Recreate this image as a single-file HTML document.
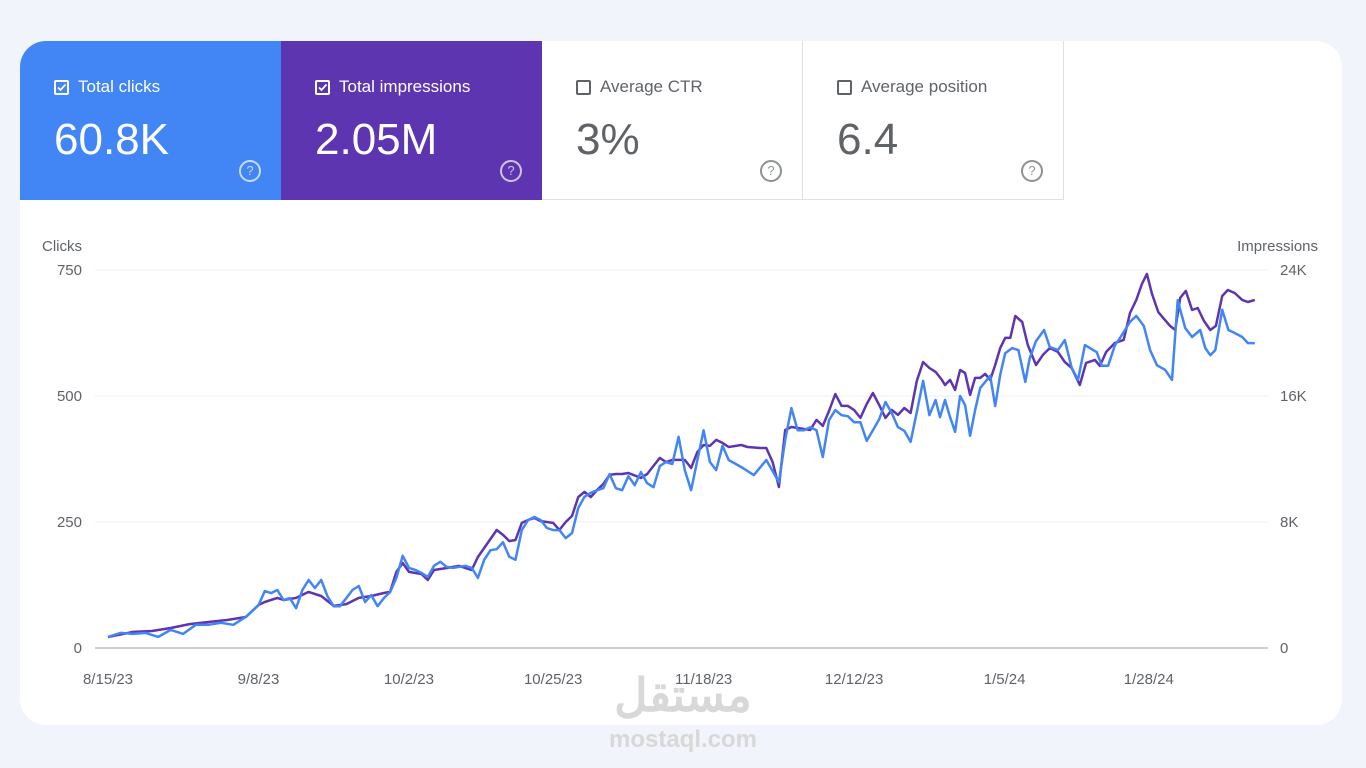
<!DOCTYPE html>
<html><head><meta charset="utf-8">
<style>
html,body{margin:0;padding:0;}
body{width:1366px;height:768px;background:#f1f4fb;font-family:"Liberation Sans",Arial,sans-serif;position:relative;overflow:hidden;}
.card{position:absolute;left:20px;top:41px;width:1322px;height:684px;background:#fff;border-radius:26px;overflow:hidden;}
.tab{position:absolute;top:0;height:159px;width:261px;box-sizing:border-box;}
.tab .lbl{position:absolute;left:34px;top:36px;font-size:17px;display:flex;align-items:center;}
.tab .cb{width:15px;height:15px;border:2px solid currentColor;border-radius:2px;margin-right:9px;box-sizing:border-box;position:relative;}
.tab .val{position:absolute;left:34px;top:74px;font-size:44px;}
.tab .help{position:absolute;right:20px;top:119px;width:18px;height:18px;border:2px solid currentColor;border-radius:50%;font-size:13px;text-align:center;line-height:18px;box-sizing:content-box;opacity:.7;}
.t1{left:0;background:#4285f4;color:#fff;}
.t2{left:261px;background:#5e35b1;color:#fff;}
.t3{left:522px;background:#fff;color:#5f6368;border-right:1px solid #e0e0e0;border-bottom:1px solid #e0e0e0;}
.t4{left:783px;background:#fff;color:#5f6368;border-right:1px solid #e0e0e0;border-bottom:1px solid #e0e0e0;}
.t3 .val,.t4 .val{color:#5f6368;}
svg text{font-family:"Liberation Sans",Arial,sans-serif;}
.wm{position:absolute;left:0;width:1366px;text-align:center;color:#d8d8d8;font-weight:bold;}
</style></head><body>
<div class="card">
  <div class="tab t1">
    <div class="lbl"><span class="cb"><svg width="11" height="11" style="position:absolute;left:0;top:0"><path d="M2 5.5l2.5 2.5 5-5.5" stroke="#fff" stroke-width="1.8" fill="none"/></svg></span>Total clicks</div>
    <div class="val">60.8K</div>
    <div class="help">?</div>
  </div>
  <div class="tab t2">
    <div class="lbl"><span class="cb"><svg width="11" height="11" style="position:absolute;left:0;top:0"><path d="M2 5.5l2.5 2.5 5-5.5" stroke="#fff" stroke-width="1.8" fill="none"/></svg></span>Total impressions</div>
    <div class="val">2.05M</div>
    <div class="help">?</div>
  </div>
  <div class="tab t3">
    <div class="lbl"><span class="cb" style="border-color:#5f6368"></span>Average CTR</div>
    <div class="val">3%</div>
    <div class="help">?</div>
  </div>
  <div class="tab t4">
    <div class="lbl"><span class="cb" style="border-color:#5f6368"></span>Average position</div>
    <div class="val">6.4</div>
    <div class="help">?</div>
  </div>
</div>
<svg id="chart" width="1366" height="768" style="position:absolute;left:0;top:0"></svg>
<div class="wm" style="top:668px;font-size:46px;font-family:'Liberation Sans','Noto Sans CJK SC',sans-serif;">مستقل</div>
<div class="wm" style="top:726px;font-size:24px;">mostaql.com</div>
<script>
const clickDays=[0,2,4,6,8,10,12,14,16,18,20,22,24,25,26,27,28,29,30,31,32,33,34,35,36,37,38,39,40,41,42,43,44,45,46,47,48,49,50,51,52,53,54,55,56,57,58,59,60,61,62,63,64,65,66,67,68,69,70,71,72,73,74,75,76,77,78,79,80,81,82,83,84,85,86,87,88,89,90,91,92,93,94,95,96,97,98,99,101,103,105,107,108,109,110,111,112,113,114,115,116,117,118,119,120,121,122,123,124,125,126,127,128,129,130,131,132,132.7,133.5,134.3,135.1,135.9,136.7,137.5,138.3,139.1,139.9,140.7,141.5,142.3,143.1,144.2,145.2,146.3,147,148,149.3,150.2,151.5,152.6,153.7,154.7,155.8,156.6,157.7,158.5,159.5,160.6,161.4,163,164,165.2,166.2,167.3,168.6,169.7,170.6,171.8,172.9,174.2,175,175.8,176.6,177.7,178.7,179.7,180.9,181.8,182.9];
const clicks=[22,30,28,30,22,36,28,46,46,50,46,62,85,113,109,115,95,99,79,115,135,119,135,103,83,83,99,115,123,91,105,83,99,111,139,183,159,155,149,141,163,171,161,159,161,163,159,139,175,194,196,210,181,175,234,254,260,254,238,234,234,218,228,278,300,308,313,317,345,317,313,341,323,349,327,319,361,369,365,419,353,313,373,432,369,353,401,373,359,343,373,329,413,476,432,432,438,432,379,452,472,462,460,448,448,411,432,454,488,466,438,431,409,468,530,462,492,458,492,458,429,500,482,421,472,516,528,540,480,542,585,595,591,528,575,609,631,597,591,611,556,532,601,595,587,560,560,601,615,647,659,639,591,561,552,532,690,635,617,631,595,581,591,671,631,625,617,605,605];
const impDays=[0,4,7,10,13,16,19,22,24,25,27,28,30,32,34,36,38,40,42,44,45,46,47,48,50,51,52,54,56,58,59,60,62,63,64,65,66,67,68,69,71,72,73,74,75,76,77,78,79,80,81,82,83,85,86,87,88,89,90,92,93,94,95,96,97,98,99,101,102,104,105,106,107,108,109,110,112,113,114,115,116,117,118,119,120,121,122,123,124,125,126,127,128,129,130,131,132,133,133.5,134.3,135.1,135.9,136.7,137.5,138.3,139.1,139.9,140.7,141.5,142.3,143.1,143.9,144.7,145.8,146.7,148,149.1,150.2,151.5,152.6,153.7,155,156,157.4,158.2,159.2,160.6,162,163,164,164.9,165.7,166.5,167.5,168.3,169.4,170.2,171,171.9,172.9,173.8,174.8,175.8,176.7,177.7,178.6,179.7,180.9,181.8,182.9];
const impressionsK=[0.70,1.02,1.08,1.27,1.52,1.65,1.78,1.97,2.73,2.92,3.18,3.05,3.18,3.56,3.30,2.67,2.79,3.18,3.30,3.49,3.56,4.83,5.40,4.83,4.70,4.32,4.95,5.08,5.21,4.95,5.78,6.35,7.49,7.18,6.79,6.86,7.94,8.13,8.26,8.06,7.94,7.49,8.00,8.38,9.59,9.91,9.59,10.03,10.41,10.99,11.05,11.05,11.11,10.80,11.05,11.56,12.07,11.81,11.94,11.94,11.43,12.45,12.89,12.83,13.21,13.02,12.76,12.89,12.76,12.70,12.70,11.81,10.22,13.84,14.03,13.97,13.84,14.48,14.10,15.05,16.13,15.37,15.37,15.11,14.61,15.49,16.19,15.43,14.61,15.11,14.80,15.24,14.92,16.95,18.16,17.78,17.53,17.02,16.70,17.02,16.38,17.65,17.46,16.07,17.15,17.15,17.40,17.02,17.97,19.05,19.69,19.69,21.08,20.70,19.24,17.97,18.61,19.05,18.80,18.16,17.78,16.70,18.10,18.29,17.91,18.80,19.37,19.56,21.27,22.10,23.11,23.75,22.48,21.34,20.96,20.45,20.19,22.23,22.67,21.46,21.59,20.76,20.19,20.45,22.35,22.73,22.54,22.10,21.97,22.10];
const dateTickDays=[0,24,48,71,95,119,143,166];
const dateTickLabels=["8/15/23","9/8/23","10/2/23","10/25/23","11/18/23","12/12/23","1/5/24","1/28/24"];
const clickTicks=[0,250,500,750];
const impTicks=[0,8,16,24];
const impTickLabels=["0","8K","16K","24K"];

const NS="http://www.w3.org/2000/svg";
const svg=document.getElementById('chart');
const X0=108,XPD=6.27,Y0=648,YTOP=270;
const xs=d=>X0+d*XPD;
const yc=v=>Y0-(v/750)*(Y0-YTOP);
const yi=v=>Y0-(v/24)*(Y0-YTOP);
function mk(tag,attrs){const e=document.createElementNS(NS,tag);for(const k in attrs)e.setAttribute(k,attrs[k]);svg.appendChild(e);return e;}
clickTicks.forEach((t,i)=>{
  const g=mk('line',{x1:95,x2:1268,y1:yc(t),y2:yc(t),stroke:i===0?'#bdbdbd':'#eceff1','stroke-width':i===0?1.5:1});
  
  
  const tx=mk('text',{x:82,y:yc(t)+5,'text-anchor':'end','font-size':15,fill:'#5f6368'});tx.textContent=t;
  
  
});
impTicks.forEach((t,i)=>{
  const tx=mk('text',{x:1280,y:yi(t)+5,'font-size':15,fill:'#5f6368'});tx.textContent=impTickLabels[i];
  
  
});
dateTickDays.forEach((d,i)=>{
  const tx=mk('text',{x:xs(d),y:684,'text-anchor':'middle','font-size':15,fill:'#5f6368'});tx.textContent=dateTickLabels[i];
  
  
});
const t1=mk('text',{x:42,y:251,'font-size':15,fill:'#5f6368'});t1.textContent='Clicks';


const t2=mk('text',{x:1318,y:251,'text-anchor':'end','font-size':15,fill:'#5f6368'});t2.textContent='Impressions';


const pImp=impDays.map((d,i)=>xs(d).toFixed(1)+','+yi(impressionsK[i]).toFixed(1)).join(' ');
const l2=mk('polyline',{points:pImp,fill:'none',stroke:'#5e35b1','stroke-width':2.5,'stroke-linejoin':'round'});


const pCl=clickDays.map((d,i)=>xs(d).toFixed(1)+','+yc(clicks[i]).toFixed(1)).join(' ');
const l1=mk('polyline',{points:pCl,fill:'none',stroke:'#4285f4','stroke-width':2.5,'stroke-linejoin':'round'});


</script>
</body></html>
